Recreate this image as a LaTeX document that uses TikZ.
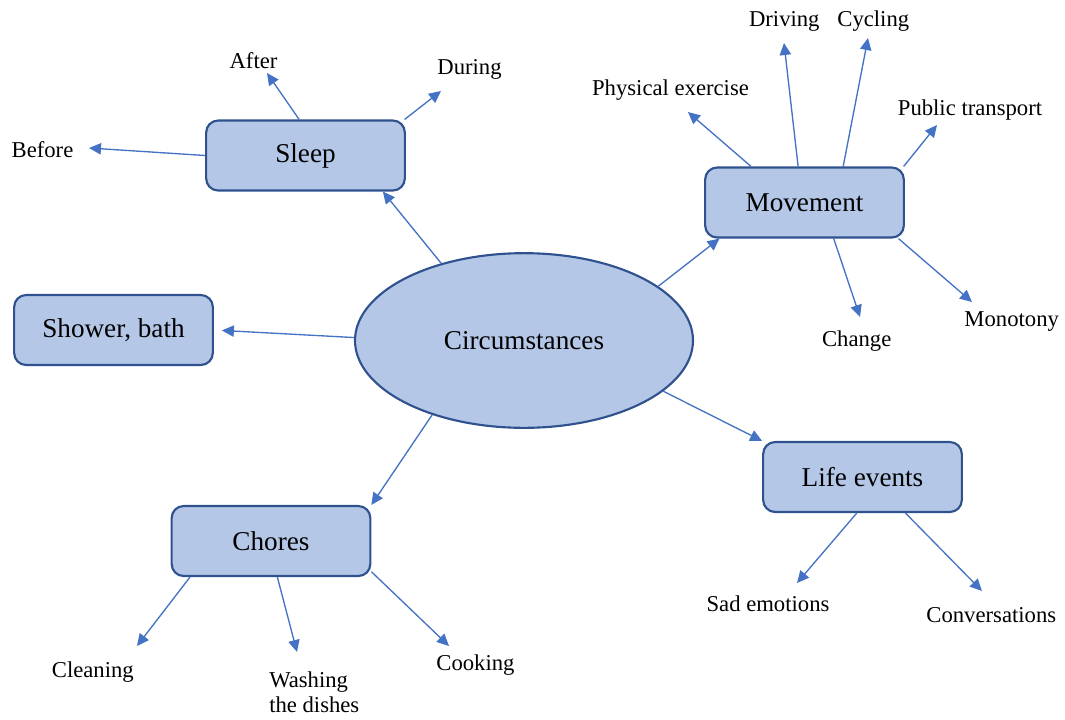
\documentclass[tikz,border=0pt]{standalone}
\usepackage{fontspec}
\setmainfont{Liberation Serif}
\usetikzlibrary{arrows.meta,shapes.geometric,positioning}
\definecolor{boxfill}{HTML}{B4C7E7}
\definecolor{boxline}{HTML}{2F528F}
\definecolor{arrline}{HTML}{4472C4}
\newcommand{\leaffont}{\fontsize{17}{18.75}\selectfont}
\newcommand{\boxfont}{\fontsize{20.4}{24}\selectfont}
\tikzset{
  box/.style={draw=boxline,fill=boxfill,line width=1.6pt,rounded corners=9pt,
    minimum width=149pt,minimum height=52.5pt,inner sep=0pt,font=\boxfont},
  hub/.style={ellipse,draw=boxline,fill=boxfill,line width=1.6pt,
    minimum width=253.5pt,minimum height=131pt,inner sep=0pt,font=\boxfont},
  leaf/.style={inner sep=0pt,anchor=base,font=\leaffont},
  arr/.style={draw=arrline,line width=1pt,-{Triangle[length=9pt,width=8.5pt]}}
}

\begin{document}
\begin{tikzpicture}[x=0.75pt,y=-0.75pt]
\useasboundingbox (0,0) rectangle (1065,719);
\node[hub] (circ) at (524,340.5) {Circumstances};
\node[box] (sleep) at (305.5,155.5) {Sleep};
\node[box] (shower) at (113.5,330) {Shower, bath};
\node[box] (chores) at (271,541) {Chores};
\node[box] (movement) at (804.5,202.5) {Movement};
\node[box] (life) at (862.5,477) {Life events};

\node[leaf] (before) at (42.5,157.3) {Before};
\node[leaf] (after) at (253.5,68.3) {After};
\node[leaf] (during) at (469.5,74.3) {During};
\node[leaf] (physical) at (670.5,95) {Physical exercise};
\node[leaf] (driving) at (784.3,26.7) {Driving};
\node[leaf] (cycling) at (873.3,26.7) {Cycling};
\node[leaf] (public) at (970,115) {Public transport};
\node[leaf] (change) at (856.7,346.7) {Change};
\node[leaf] (monotony) at (1011.7,326.7) {Monotony};
\node[leaf] (sad) at (768,611.7) {Sad emotions};
\node[leaf] (conv) at (991.3,622.7) {Conversations};
\node[leaf] (cleaning) at (92.8,677.3) {Cleaning};
\node[leaf,anchor=north west,align=left] (washing) at (269,671) {Washing\\the dishes};
\node[leaf] (cooking) at (475.5,670.7) {Cooking};

\coordinate (t-before) at (89,148);
\coordinate (t-after) at (267,73);
\coordinate (t-during) at (441,91);
\coordinate (t-physical) at (688,112);
\coordinate (t-driving) at (784,43);
\coordinate (t-cycling) at (868,38);
\coordinate (t-public) at (937,125);
\coordinate (t-change) at (860,317);
\coordinate (t-monotony) at (972,302);
\coordinate (t-sad) at (797,583);
\coordinate (t-conv) at (982,591);
\coordinate (t-cleaning) at (137,646);
\coordinate (t-washing) at (297,652);
\coordinate (t-cooking) at (449,646);

\draw[arr] (circ.137) -- (sleep.-25);
\draw[arr,shorten >=6pt] (circ.179) -- (shower.east);
\draw[arr] (circ.219) -- (chores.north east);
\draw[arr] (circ.22) -- (movement.203);
\draw[arr] (circ.-20) -- (life.north west);

\draw[arr] (sleep.west) -- (t-before);
\draw[arr] (sleep.100) -- (t-after);
\draw[arr] (sleep.20) -- (t-during);

\draw[arr] (movement.146) -- (t-physical);
\draw[arr] (movement.100) -- (t-driving);
\draw[arr] (movement.43) -- (t-cycling);
\draw[arr] (movement.20) -- (t-public);
\draw[arr] (movement.-51) -- (t-change);
\draw[arr] (movement.-21) -- (t-monotony);

\draw[arr] (life.-99) -- (t-sad);
\draw[arr] (life.-40) -- (t-conv);

\draw[arr] (chores.204) -- (t-cleaning);
\draw[arr] (chores.-80) -- (t-washing);
\draw[arr] (chores.-17) -- (t-cooking);
\end{tikzpicture}
\end{document}
